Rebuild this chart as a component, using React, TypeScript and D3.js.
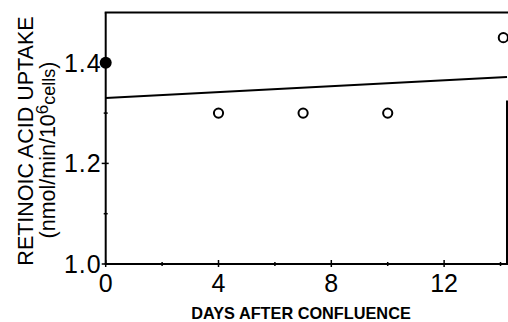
import React from "react";
import * as d3 from "d3";

const openDays = [4, 7, 10, 14.1];
const openUptake = [1.3, 1.3, 1.3, 1.45];
const filledDays = [0];
const filledUptake = [1.4];
const fitDays = [0, 14.23];
const fitUptake = [1.33, 1.372];
const xTicks = [0, 4, 8, 12];
const xMinorTicks = [2, 6, 10, 14];
const yTicks = [1.0, 1.2, 1.4];
const yMinorTicks = [1.1, 1.3];

const W = 508;
const H = 322;
const FONT = "'Liberation Sans', Arial, Helvetica, sans-serif";

export default function App() {
  const x = d3.scaleLinear().domain([0, 14.23]).range([105.7, 507]);
  const y = d3.scaleLinear().domain([1.0, 1.5]).range([264, 12.5]);
  const line = d3
    .line<number>()
    .x((_, i) => x(fitDays[i]))
    .y((d) => y(d));

  return (
    <svg
      width={W}
      height={H}
      style={{ position: "absolute", left: 0, top: 0, background: "#fff" }}
      fontFamily={FONT}
    >
      {/* frame */}
      <line x1={x(0)} x2={x(0)} y1={y(1.5)} y2={y(1.0)} stroke="#000" strokeWidth={2} />
      <line x1={x(0) - 1} x2={W} y1={y(1.5)} y2={y(1.5)} stroke="#000" strokeWidth={2} />
      <line x1={x(0) - 1} x2={x(14.23)} y1={y(1.0)} y2={y(1.0)} stroke="#000" strokeWidth={2} />
      <line x1={x(14.23)} x2={x(14.23)} y1={y(1.325)} y2={y(1.0) + 1} stroke="#000" strokeWidth={2} />

      {/* y ticks */}
      {yTicks.map((t) => (
        <g key={"yt" + t}>
          <line x1={x(0) - 4} x2={x(0) + 3} y1={y(t)} y2={y(t)} stroke="#000" strokeWidth={1.5} />
          <text
            x={x(0) - 4}
            y={y(t)}
            dy="0.36em"
            textAnchor="end"
            fontSize={25}
            letterSpacing={1}
          >
            {t.toFixed(1)}
          </text>
        </g>
      ))}
      {yMinorTicks.map((t) => (
        <line key={"ym" + t} x1={x(0) - 2} x2={x(0) + 2} y1={y(t)} y2={y(t)} stroke="#000" strokeWidth={1.5} />
      ))}

      {/* x ticks */}
      {xTicks.map((t) => (
        <g key={"xt" + t}>
          <line x1={x(t)} x2={x(t)} y1={y(1.0) - 4} y2={y(1.0) + 3} stroke="#000" strokeWidth={1.5} />
          <text x={x(t)} y={292} textAnchor="middle" fontSize={25}>
            {t}
          </text>
        </g>
      ))}
      {xMinorTicks.map((t) => (
        <line key={"xm" + t} x1={x(t)} x2={x(t)} y1={y(1.0) - 2} y2={y(1.0) + 2} stroke="#000" strokeWidth={1.5} />
      ))}

      {/* fit line */}
      <path d={line(fitUptake) || ""} fill="none" stroke="#000" strokeWidth={2} />

      {/* points */}
      {openDays.map((d, i) => (
        <circle key={"o" + i} cx={x(d)} cy={y(openUptake[i])} r={4.6} fill="#fff" stroke="#000" strokeWidth={2} />
      ))}
      {filledDays.map((d, i) => (
        <circle key={"f" + i} cx={x(d)} cy={y(filledUptake[i])} r={6} fill="#000" />
      ))}

      {/* axis titles */}
      <text x={301} y={319} textAnchor="middle" fontSize={16.3} fontWeight="bold">
        DAYS AFTER CONFLUENCE
      </text>
      <text transform="translate(33,141) rotate(-90)" textAnchor="middle" fontSize={21.5}>
        RETINOIC ACID UPTAKE
      </text>
      <text transform="translate(55,150) rotate(-90)" textAnchor="middle" fontSize={21.5}>
        (nmol/min/10
        <tspan fontSize={17} dy={-7}>6</tspan>
        <tspan fontSize={18} dy={7}>cells</tspan>)
      </text>
    </svg>
  );
}
